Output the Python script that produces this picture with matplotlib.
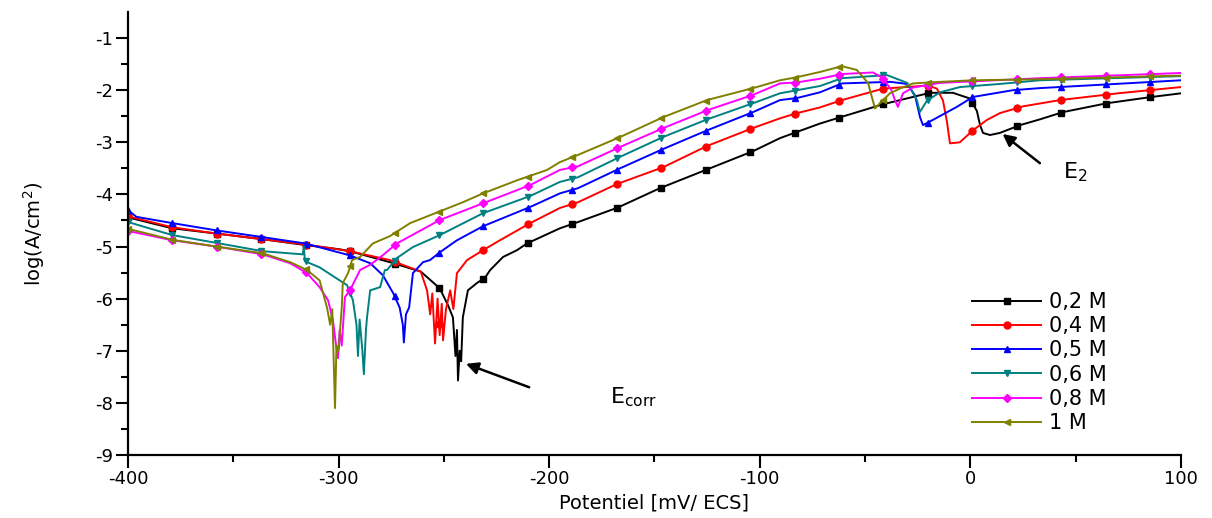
import matplotlib
matplotlib.use("Agg")
import matplotlib.pyplot as plt
import numpy as np

# Potentiodynamic polarisation curves.
# Potential in mV/ECS, current density as log(A/cm2).
labels = ["0,2 M", "0,4 M", "0,5 M", "0,6 M", "0,8 M", "1 M"]

e_02 = [-400, -379, -358, -336, -316, -300, -294.6, -275.6, -261, -252, -248, -245.7,
        -244.5, -243.8, -243.3, -242.5, -241.8, -241, -238.6, -234.3, -230.5, -228,
        -221.9, -215.3, -210.5, -194.9, -186.3, -167.3, -147.4, -125, -103.2, -90.4,
        -82.3, -71.4, -61, -41.5, -19.2, -8.3, -0.2, 3.1, 4.6, 6, 9.3, 14, 23.6, 33,
        44, 64.9, 86, 100]
logi_02 = [-4.44, -4.65, -4.75, -4.86, -4.97, -5.05, -5.09, -5.3, -5.48, -5.8, -6.13, -6.36,
           -7.1, -6.6, -7.57, -7.0, -7.2, -6.36, -5.84, -5.70, -5.6, -5.45,
           -5.2, -5.07, -4.94, -4.65, -4.53, -4.25, -3.88, -3.52, -3.17, -2.92,
           -2.8, -2.64, -2.51, -2.27, -2.05, -2.05, -2.16, -2.4, -2.67, -2.82, -2.86, -2.82, -2.67, -2.56,
           -2.42, -2.25, -2.13, -2.06]

e_04 = [-400, -379, -358, -336, -316, -304, -294.6, -275.6, -261, -258, -256.5, -255.5,
        -254.2, -253, -252, -251, -250.4, -249, -247, -245.5, -243.8, -239, -231.4,
        -223.4, -209, -194.9, -186.3, -167.8, -146, -125, -103.5, -90.4, -82.3, -71.4,
        -61, -41.5, -20, -15.9, -13, -11.1, -9.7, -5, 1.2, 7.9, 14, 25, 42.5, 70, 100]
logi_04 = [-4.42, -4.63, -4.75, -4.86, -4.96, -5.03, -5.09, -5.26, -5.48, -5.84, -6.3, -5.9,
           -6.86, -6.0, -6.7, -6.1, -6.8, -6.2, -5.84, -6.2, -5.51, -5.26, -5.07,
           -4.88, -4.55, -4.26, -4.15, -3.8, -3.48, -3.07, -2.73, -2.54, -2.44, -2.33,
           -2.19, -1.97, -1.91, -1.97, -2.2, -2.61, -3.02, -3.0, -2.77, -2.57, -2.44, -2.31, -2.19, -2.06, -1.94]

e_05 = [-400, -396, -379, -358, -336, -316, -294.6, -285, -279, -274, -271, -269.5, -269,
        -268, -266.5, -264.7, -259.9, -256.6, -251.9, -243.8, -231.4, -209, -194.9,
        -186.3, -166.4, -146, -125, -103.2, -90.4, -82.3, -71.4, -61, -38, -30, -26.3,
        -23.9, -22.5, -17.8, -6.4, 1.2, 20.2, 33, 60, 100]
logi_05 = [-4.3, -4.43, -4.55, -4.69, -4.82, -4.94, -5.17, -5.32, -5.55, -5.9, -6.17, -6.5, -6.84,
           -6.3, -6.17, -5.51, -5.3, -5.26, -5.11, -4.88, -4.61, -4.24, -3.98,
           -3.88, -3.5, -3.13, -2.77, -2.42, -2.19, -2.15, -2.04, -1.87, -1.84, -1.88, -2.1,
           -2.52, -2.67, -2.57, -2.32, -2.13, -2.0, -1.96, -1.9, -1.81]

e_06 = [-400, -379, -358, -336, -317, -316.5, -316, -309, -301, -296, -293.2, -291.5,
        -290.8, -290, -288.7, -288, -287, -286.5, -285, -280.3, -278, -277, -272.3,
        -264.7, -251.9, -231.4, -209, -194.9, -186.3, -166.4, -146, -125, -103.2, -90.4,
        -82.3, -71.4, -61, -39.6, -30, -27.3, -25.4, -24, -20.6, -14.4, -5, 14, 33, 100]
logi_06 = [-4.53, -4.78, -4.93, -5.09, -5.15, -5.0, -5.28, -5.4, -5.61, -5.74, -6.03, -6.5,
           -7.1, -6.4, -7.0, -7.45, -6.6, -6.36, -5.84, -5.78, -5.45, -5.45, -5.22,
           -5.01, -4.78, -4.36, -4.03, -3.76, -3.67, -3.28, -2.90, -2.56, -2.25, -2.06,
           -2.0, -1.92, -1.77, -1.71, -1.86, -2.05, -2.19, -2.42, -2.2, -2.04, -1.94, -1.88, -1.81, -1.73]

e_08 = [-400, -379, -358, -336, -323, -315, -309, -305, -302.7, -301.5, -300.3, -299.5,
        -298.5, -297, -294.6, -289.8, -285, -280, -272.3, -251.9, -231.4, -209, -194.9,
        -186.3, -166.4, -146, -124.6, -103.2, -90.4, -82.3, -71.4, -61, -46.2, -41.5,
        -37.5, -35.8, -34.4, -32, -27.3, -14.4, 1.2, 33, 100]
logi_08 = [-4.70, -4.88, -5.0, -5.15, -5.32, -5.51, -5.78, -6.03, -6.41, -6.8, -7.14, -6.6,
           -6.9, -5.97, -5.84, -5.45, -5.35, -5.2, -4.94, -4.49, -4.17, -3.82, -3.53,
           -3.46, -3.09, -2.73, -2.38, -2.09, -1.87, -1.85, -1.78, -1.69, -1.66, -1.77,
           -2.0, -2.19, -2.32, -2.06, -1.95, -1.86, -1.83, -1.77, -1.67]

e_1 = [-400, -379, -358, -336, -323, -315, -309, -305.5, -304, -303, -302.5, -301.7,
       -301, -300, -298.5, -298, -295.5, -293.6, -289.8, -283.7, -275.6, -266, -256.6,
       -241, -231.4, -215.3, -201, -194.9, -186.8, -166.4, -146, -125.1, -103.2, -90.4,
       -82.3, -71.4, -61, -54, -48.6, -45.3, -42.9, -38.2, -33, -27.2, -14.4, 1.2, 33, 100]
logi_1 = [-4.66, -4.87, -5.0, -5.13, -5.3, -5.45, -5.65, -6.17, -6.5, -6.2, -6.93, -8.1,
          -6.9, -7.0, -6.17, -5.7, -5.51, -5.26, -5.2, -4.94, -4.8, -4.55, -4.40,
          -4.15, -3.98, -3.73, -3.53, -3.38, -3.25, -2.90, -2.52, -2.19, -1.96, -1.81,
          -1.75, -1.65, -1.54, -1.61, -1.86, -2.35, -2.25, -2.06, -1.96, -1.87, -1.84, -1.81, -1.79, -1.72]

series_e = [e_02, e_04, e_05, e_06, e_08, e_1]
series_logi = [logi_02, logi_04, logi_05, logi_06, logi_08, logi_1]
colors = ["#000000", "#FF0000", "#0000FF", "#008080", "#FF00FF", "#808000"]
markers = ["s", "o", "^", "v", "D", "<"]

plt.rcParams["font.family"] = ["DejaVu Sans"]
plt.rcParams["axes.unicode_minus"] = False

fig = plt.figure(figsize=(12.12, 5.18), dpi=100)
ax = fig.add_axes([0.1056, 0.1216, 0.8688, 0.8552])

# Symbols every ~21 mV along each curve, as in the original export.
marker_grid = np.arange(-400, 101, 21.1)

handles = []
for e, li, c, m in zip(series_e, series_logi, colors, markers):
    (line,) = ax.plot(e, li, color=c, linewidth=1.4)
    (pts,) = ax.plot(marker_grid, np.interp(marker_grid, e, li), linestyle="none",
                     marker=m, color=c, markersize=5 if m != "D" else 4.5)
    handles.append((line, pts))

ax.set_xlim(-400, 100)
ax.set_ylim(-9, -0.5)
ax.set_xticks(np.arange(-400, 101, 100))
ax.set_xticks(np.arange(-350, 100, 100), minor=True)
ax.set_yticks(np.arange(-9, -0.5, 1))
ax.set_yticks(np.arange(-8.5, -0.5, 1), minor=True)

for side in ["top", "right"]:
    ax.spines[side].set_visible(False)
for side in ["left", "bottom"]:
    ax.spines[side].set_linewidth(1.6)
ax.tick_params(which="major", direction="out", length=9, width=1.5, labelsize=13, pad=2)
ax.tick_params(which="minor", direction="out", length=5, width=1.5)

ax.set_xlabel("Potentiel [mV/ ECS]", fontsize=14, labelpad=4)
ax.set_ylabel("log(A/cm$^2$)", fontsize=14, labelpad=34)

ax.legend(handles, labels, loc="upper left", bbox_to_anchor=(0.784, 0.41),
          frameon=False, fontsize=15, handlelength=3.3, labelspacing=0.2,
          handletextpad=0.4)

# Corrosion potential and second potential annotations.
ax.text(-171, -7.9, "E$_{\\rm corr}$", fontsize=16, ha="left", va="center")
ax.annotate("", xy=(-239.5, -7.25), xytext=(-209.5, -7.7),
            arrowprops=dict(arrowstyle="-|>", color="black", lw=1.8,
                            mutation_scale=18, shrinkA=0, shrinkB=0))
ax.annotate("", xy=(15.3, -2.84), xytext=(33, -3.40),
            arrowprops=dict(arrowstyle="-|>", color="black", lw=1.8,
                            mutation_scale=18, shrinkA=0, shrinkB=0))
ax.text(44, -3.57, "E$_2$", fontsize=16, ha="left", va="center")

fig.savefig("out.png", dpi=100)
